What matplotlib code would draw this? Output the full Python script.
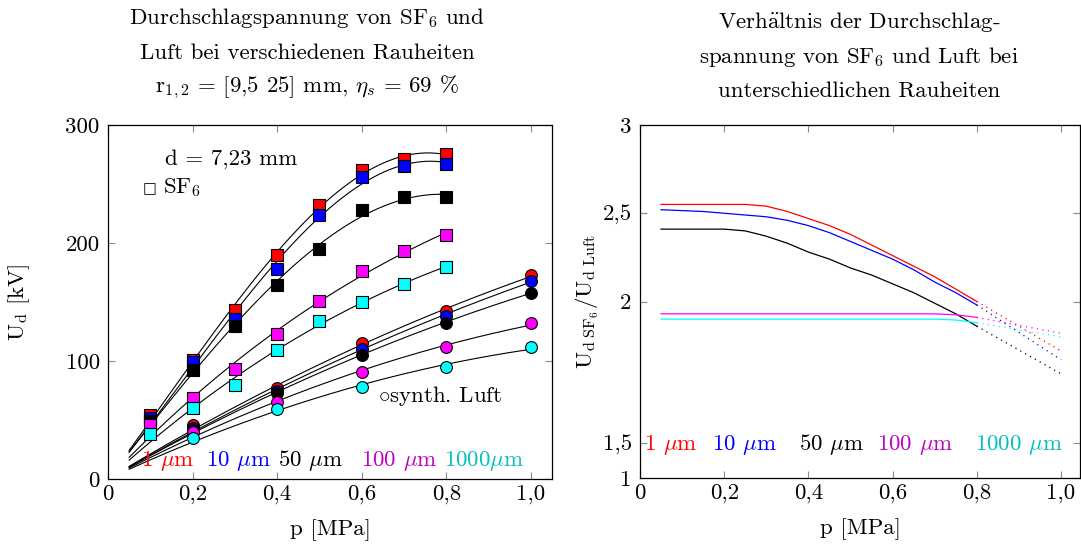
import numpy as np
import matplotlib
matplotlib.use("Agg")
import matplotlib.pyplot as plt
from matplotlib.ticker import FixedLocator, FixedFormatter

FS = 16.5

plt.rcParams.update({
    "font.family": ["cmr10", "DejaVu Serif"],
    "mathtext.fontset": "cm",
    "font.size": FS,
    "axes.unicode_minus": False,
    "axes.formatter.use_mathtext": True,
})

# Breakdown voltage in SF6 (kV) at 0.1 ... 0.8 MPa
p_sf6 = [0.1, 0.2, 0.3, 0.4, 0.5, 0.6, 0.7, 0.8]
sf6_1um = [54, 101, 143, 190, 232, 262, 271, 275]
sf6_10um = [52, 99, 136, 178, 224, 256, 265, 267]
sf6_50um = [49, 92, 130, 164, 195, 228, 239, 239]
sf6_100um = [46, 69, 93, 123, 151, 176, 193, 207]
sf6_1000um = [38, 60, 80, 109, 134, 150, 165, 180]

# Breakdown voltage in synthetic air (kV)
p_air = [0.2, 0.4, 0.6, 0.8, 1.0]
air_1um = [46, 77, 115, 142, 173]
air_10um = [43, 75, 110, 138, 168]
air_50um = [41.5, 72.5, 105, 132.5, 158]
air_100um = [39.5, 65.5, 91, 111.5, 132]
air_1000um = [35, 59, 78, 94.5, 112]

# Ratio U_d(SF6) / U_d(air)
p_ratio = [0.05, 0.10, 0.15, 0.20, 0.25, 0.30, 0.35, 0.40,
           0.45, 0.50, 0.55, 0.60, 0.65, 0.70, 0.75, 0.80]
ratio_1um = [2.55, 2.55, 2.55, 2.55, 2.55, 2.54, 2.51, 2.47,
             2.43, 2.38, 2.32, 2.26, 2.20, 2.14, 2.07, 2.00]
ratio_10um = [2.52, 2.515, 2.51, 2.50, 2.49, 2.48, 2.46, 2.43,
              2.39, 2.34, 2.29, 2.24, 2.18, 2.11, 2.05, 1.98]
ratio_50um = [2.41, 2.41, 2.41, 2.41, 2.40, 2.37, 2.33, 2.28,
              2.24, 2.19, 2.15, 2.10, 2.05, 1.99, 1.93, 1.86]
ratio_100um = [1.93, 1.93, 1.93, 1.93, 1.93, 1.93, 1.93, 1.93,
               1.93, 1.93, 1.93, 1.93, 1.93, 1.93, 1.925, 1.91]
ratio_1000um = [1.90, 1.90, 1.90, 1.90, 1.90, 1.90, 1.90, 1.90,
                1.90, 1.90, 1.90, 1.90, 1.90, 1.90, 1.895, 1.88]

# Extrapolated ratio beyond 0.8 MPa
p_ratio_ext = [0.8, 1.0]
ratio_ext_1um = [2.00, 1.72]
ratio_ext_10um = [1.98, 1.67]
ratio_ext_50um = [1.86, 1.59]
ratio_ext_100um = [1.91, 1.82]
ratio_ext_1000um = [1.88, 1.80]

roughness_labels = ["1 $\\mu$m", "10 $\\mu$m", "50 $\\mu$m", "100 $\\mu$m", "1000$\\mu$m"]
roughness_labels_r = ["1 $\\mu$m", "10 $\\mu$m", "50 $\\mu$m", "100 $\\mu$m", "1000 $\\mu$m"]
colors = ["#ff0000", "#0000ff", "#000000", "#ff00ff", "#00ffff"]
text_colors = ["#ff0000", "#0000ff", "#000000", "#c000c0", "#00c0c0"]

x_ticks = [0, 0.2, 0.4, 0.6, 0.8, 1.0]
x_ticklabels = ["0", "0,2", "0,4", "0,6", "0,8", "1,0"]
y_ticks_left = [0, 100, 200, 300]
y_ticklabels_left = ["0", "100", "200", "300"]
y_ticks_right = [1, 1.2, 2, 2.5, 3]
y_ticklabels_right = ["1", "1,5", "2", "2,5", "3"]


def fit_through_origin(p, u, deg, p_start, p_end):
    """Least-squares polynomial without constant term."""
    p = np.asarray(p, float)
    u = np.asarray(u, float)
    A = np.column_stack([p ** k for k in range(1, deg + 1)])
    coef, *_ = np.linalg.lstsq(A, u, rcond=None)
    pp = np.linspace(p_start, p_end, 200)
    return pp, sum(c * pp ** k for k, c in enumerate(coef, start=1))


def style_axes(ax, yticks, yticklabels):
    ax.set_xlim(0, 1.05)
    ax.xaxis.set_major_locator(FixedLocator(x_ticks))
    ax.xaxis.set_major_formatter(FixedFormatter(x_ticklabels))
    ax.yaxis.set_major_locator(FixedLocator(yticks))
    ax.yaxis.set_major_formatter(FixedFormatter(yticklabels))
    ax.tick_params(direction="in", length=5, width=0.8, color="0.55",
                   top=True, right=True, labelsize=FS)
    ax.tick_params(axis="x", pad=4)
    ax.tick_params(axis="y", pad=6)
    for s in ax.spines.values():
        s.set_linewidth(0.9)


fig = plt.figure(figsize=(10.81, 5.54), dpi=100)

# ---------------- left: breakdown voltage ----------------
ax1 = fig.add_axes([108 / 1081, 1 - 479 / 554, 444 / 1081, 354 / 554])
style_axes(ax1, y_ticks_left, y_ticklabels_left)
ax1.set_ylim(0, 300)

sf6_series = [sf6_1um, sf6_10um, sf6_50um, sf6_100um, sf6_1000um]
air_series = [air_1um, air_10um, air_50um, air_100um, air_1000um]

for u in sf6_series:
    pp, uu = fit_through_origin(p_sf6, u, 3, 0.05, 0.8)
    ax1.plot(pp, uu, color="black", lw=0.8, zorder=2)
for u in air_series:
    pp, uu = fit_through_origin(p_air, u, 2, 0.05, 1.0)
    ax1.plot(pp, uu, color="black", lw=0.8, zorder=2)

for i, (u, c) in enumerate(zip(sf6_series, colors)):
    ax1.plot(p_sf6, u, ls="none", marker="s", ms=8.5, mfc=c, mec="black",
             mew=0.8, zorder=3 + i)
for i, (u, c) in enumerate(zip(air_series, colors)):
    ax1.plot(p_air, u, ls="none", marker="o", ms=8.5, mfc=c, mec="black",
             mew=0.8, zorder=3 + i)

ax1.text(0.135, 266, "d = 7,23 mm", ha="left", va="baseline", fontsize=FS)
ax1.text(0.083, 242, "\u25a1", ha="left", va="baseline", fontsize=FS - 6,
         family="DejaVu Sans")
ax1.text(0.13, 242, "SF$_6$", ha="left", va="baseline", fontsize=FS)
ax1.text(0.638, 65, "$\\circ$synth. Luft", ha="left", va="baseline", fontsize=FS)

for x, lab, c in zip([0.078, 0.232, 0.402, 0.598, 0.794], roughness_labels, text_colors):
    ax1.text(x, 11, lab, color=c, ha="left", va="baseline", fontsize=FS, zorder=10)

ax1.set_xlabel("p [MPa]", fontsize=FS)
ax1.xaxis.set_label_coords(0.5, -0.115)
ax1.set_ylabel("U$_\\mathrm{d}$ [kV]", fontsize=FS)
ax1.yaxis.set_label_coords(-0.172, 0.5)

# ---------------- right: ratio ----------------
ax2 = fig.add_axes([640 / 1081, 1 - 478 / 554, 440 / 1081, 353 / 554])
style_axes(ax2, y_ticks_right, y_ticklabels_right)
ax2.set_xlim(0, 1.045)
ax2.set_ylim(1, 3)

ratio_series = [ratio_1um, ratio_10um, ratio_50um, ratio_100um, ratio_1000um]
ratio_ext = [ratio_ext_1um, ratio_ext_10um, ratio_ext_50um, ratio_ext_100um, ratio_ext_1000um]
for r, re, c in zip(ratio_series, ratio_ext, colors):
    ax2.plot(p_ratio, r, color=c, lw=0.9)
    ax2.plot(p_ratio_ext, re, color=c, lw=1.0, ls=(0, (0.8, 3.2)))

for x, lab, c in zip([0.0095, 0.171, 0.377, 0.562, 0.795], roughness_labels_r, text_colors):
    ax2.text(x, 1.158, lab, color=c, ha="left", va="baseline", fontsize=FS, zorder=10)

ax2.set_xlabel("p [MPa]", fontsize=FS)
ax2.xaxis.set_label_coords(0.5, -0.115)
ax2.set_ylabel("U$_\\mathrm{d\\ SF_6}$/U$_\\mathrm{d\\ Luft}$", fontsize=FS)
ax2.yaxis.set_label_coords(-0.088, 0.5)

# ---------------- titles ----------------
left_title = ["Durchschlagspannung von SF$_6$ und",
              "Luft bei verschiedenen Rauheiten",
              "r$_{1,2}$ = [9,5 25] mm, $\\eta_s$ = 69 %"]
for y, line in zip([24, 59, 92], left_title):
    fig.text(307 / 1081, 1 - y / 554, line, ha="center", va="baseline", fontsize=FS)

right_title = ["Verh$\\ddot{\\mathrm{a}}$ltnis der Durchschlag-",
               "spannung von SF$_6$ und Luft bei",
               "unterschiedlichen Rauheiten"]
for y, line in zip([28, 63, 97], right_title):
    fig.text(859 / 1081, 1 - y / 554, line, ha="center", va="baseline", fontsize=FS)

fig.savefig("out.png", dpi=100)
